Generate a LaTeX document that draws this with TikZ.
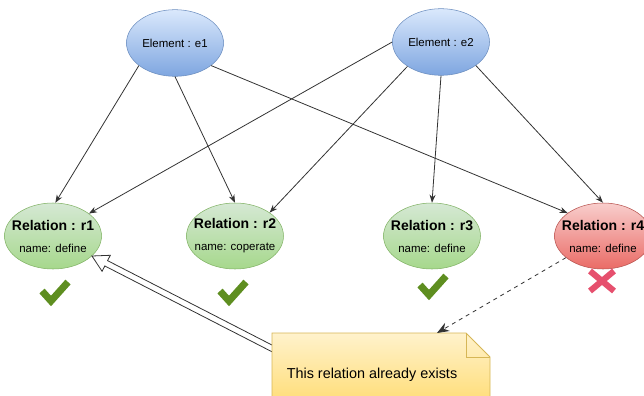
\documentclass[tikz,border=0pt]{standalone}
\usepackage{fontspec}
\setmainfont{Liberation Sans}
\usetikzlibrary{arrows.meta, shapes.geometric, calc}
\definecolor{elemtop}{HTML}{DAE8FC}
\definecolor{elembot}{HTML}{7EA6E0}
\definecolor{elemline}{HTML}{6C8EBF}
\definecolor{reltop}{HTML}{D5E8D4}
\definecolor{relbot}{HTML}{A6D88C}
\definecolor{relline}{HTML}{82B366}
\definecolor{badtop}{HTML}{F8CECC}
\definecolor{badbot}{HTML}{EA6B66}
\definecolor{badline}{HTML}{B85450}
\definecolor{notetop}{HTML}{FFF2CC}
\definecolor{notebot}{HTML}{FFD966}
\definecolor{noteline}{HTML}{D6B656}
\definecolor{linkgray}{HTML}{333333}
\definecolor{okgreen}{HTML}{5E8E20}
\definecolor{nored}{HTML}{E6506E}

\begin{document}
\begin{tikzpicture}[x=0.75pt, y=-0.75pt,
	elem/.style={ellipse, draw=elemline, top color=elemtop, bottom color=elembot, minimum width=72.75pt, minimum height=50pt, inner sep=0pt, font=\fontsize{8.6}{10}\selectfont},
	rel/.style={ellipse, draw=relline, top color=reltop, bottom color=relbot, minimum width=72.75pt, minimum height=49.5pt, inner xsep=-6pt, inner ysep=0pt, align=center, font=\fontsize{8.6}{10}\selectfont},
	bad/.style={rel, draw=badline, top color=badtop, bottom color=badbot},
	link/.style={draw=linkgray, line width=.6pt, arrows={-Stealth[length=6pt, width=4.5pt]}},
	okmark/.style={draw=okgreen, line width=5.25pt, line join=miter},
	nomark/.style={draw=nored, line width=4.6pt}]
	\useasboundingbox (0, 0) rectangle (644, 396);
	\clip (0, 0) rectangle (644, 396);

	\node[elem] (e1) at (175, 43) {Element : e1};
	\node[elem] (e2) at (441, 42) {Element : e2};
	\node[rel] (r1) at (53, 236) {{\fontsize{10.5}{12}\selectfont\bfseries Relation : r1}\\[6.5pt]name: define};
	\node[rel] (r2) at (235, 236) {{\fontsize{10.5}{12}\selectfont\bfseries Relation : r2}\\[6.5pt]name: coperate};
	\node[rel] (r3) at (432, 236) {{\fontsize{10.5}{12}\selectfont\bfseries Relation : r3}\\[6.5pt]name: define};
	\node[bad] (r4) at (603, 236) {{\fontsize{10.5}{12}\selectfont\bfseries Relation : r4}\\[6.5pt]name: define};

	\draw[link] (e1.212) -- (r1.86);
	\draw[link] (e1.south) -- (r2.north);
	\draw[link] (e1.328) -- (r4.147);
	\draw[link] (e2.west) -- (r1.32);
	\draw[link] (e2.216) -- (r2.34);
	\draw[link] (e2.south) -- (r3.north);
	\draw[link] (e2.326) -- (r4.north);

	\foreach \cx/\cy in {55/292, 233/292, 433/286}
		\draw[okmark] (\cx-13, \cy-1) -- ++(9, 10) -- ++(17, -19);
	\draw[nomark] (590, 271) -- (614, 291) (590, 291) -- (614, 271);

	% hollow arrow from the note back to r1
	\coordinate (tail) at (279, 352);
	\path (tail) -- (r1) coordinate[pos=1] (tip);
	\coordinate (hb) at ($(tip)!12pt!(tail)$);
	\draw[linkgray, line width=.6pt, fill=white, line join=miter]
		($(tail)!2.25pt!90:(tip)$) -- ($(hb)!2.25pt!90:(tip)$) -- ($(hb)!6.75pt!90:(tip)$)
		-- (tip) -- ($(hb)!6.75pt!-90:(tip)$) -- ($(hb)!2.25pt!-90:(tip)$)
		-- ($(tail)!2.25pt!-90:(tip)$) -- cycle;

	% note
	\shade[top color=notetop, bottom color=notebot, draw=noteline, line width=.6pt]
		(272, 333) -- (466, 333) -- (490, 357) -- (490, 417) -- (272, 417) -- cycle;
	\draw[noteline, line width=.6pt] (466, 333) -- (466, 357) -- (490, 357);
	\node[font=\fontsize{10.8}{13}\selectfont] (note) at (372, 375) {This relation already exists};
	\coordinate (notetip) at (437, 333);
	\draw[linkgray, line width=.6pt, dashed, arrows={-Stealth[length=9pt, width=7pt]}] (r4) -- (notetip);

\end{tikzpicture}
\end{document}
